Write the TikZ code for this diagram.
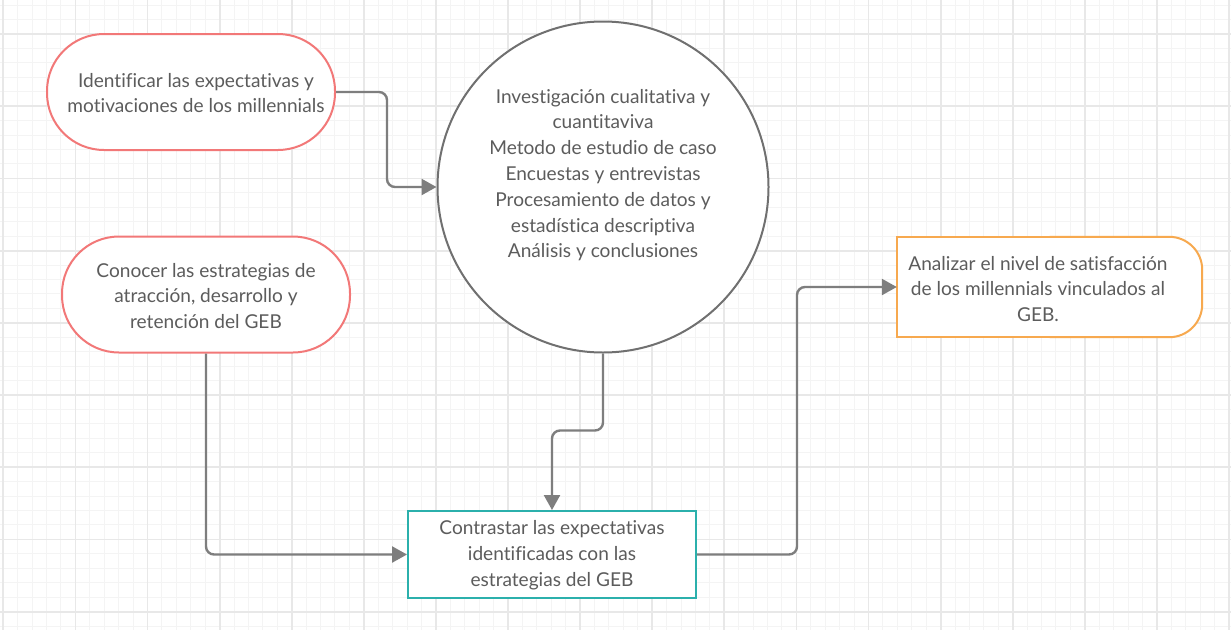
\documentclass[tikz,border=0pt]{standalone}
\usepackage{fontspec}
\setmainfont{Lato}[Ligatures=NoCommon]
\usetikzlibrary{arrows.meta,calc}
\definecolor{gridmin}{HTML}{F4F4F4}
\definecolor{gridmaj}{HTML}{E8E8E8}
\definecolor{redc}{HTML}{F27878}
\definecolor{orangec}{HTML}{F7A94F}
\definecolor{tealc}{HTML}{2BB0AC}
\definecolor{connc}{HTML}{7E7E7E}
\definecolor{circc}{HTML}{707070}
\definecolor{txtc}{HTML}{5C5C5C}
\tikzset{
  minorline/.style={gridmin, line width=1pt},
  majorline/.style={gridmaj, line width=1.8pt},
  txt/.style={text=txtc, align=center, font=\fontsize{19.1}{25.8}\selectfont},
  pill/.style={draw=redc, line width=2pt, fill=white, rounded corners=57pt, minimum width=288pt, minimum height=116pt},
  conn/.style={connc, line width=2.4pt, rounded corners=8pt, -{Triangle[length=15pt,width=16pt]}},
}
\begin{document}
\begin{tikzpicture}[x=1pt,y=-1pt]
\useasboundingbox (0,0) rectangle (1231,630);
\fill[white] (0,0) rectangle (1231,630);
% grid
\foreach \i in {0,...,85} {\draw[minorline] ({3.3+\i*14.42},0) -- ({3.3+\i*14.42},630);}
\foreach \j in {0,...,43} {\draw[minorline] (0,{5.1+\j*14.44}) -- (1231,{5.1+\j*14.44});}
\foreach \i in {0,...,17} {\draw[majorline] ({3.3+\i*72.1},0) -- ({3.3+\i*72.1},630);}
\foreach \j in {0,...,8} {\draw[majorline] (0,{34+\j*72.2}) -- (1231,{34+\j*72.2});}
% nodes
\node[pill] (a) at (191,92) {};
\node[txt] (at) at (196,93) {Identificar las expectativas y\\motivaciones de los millennials};
\node[pill] (b) at (206,294.5) {};
\node[txt] (bt) at (206,296) {Conocer las estrategias de\\atracción, desarrollo y\\retención del GEB};
\node[circle, draw=circc, line width=2pt, fill=white, minimum size=331pt, inner sep=0pt] (m) at (603,187) {};
\node[txt] (mt) at (603,175) {Investigación cualitativa y\\cuantitaviva\\Metodo de estudio de caso\\Encuestas y entrevistas\\Procesamiento de datos y\\estadística descriptiva\\Análisis y conclusiones};
\node[draw=tealc, line width=2pt, fill=white, minimum width=288pt, minimum height=87pt] (c) at (552,554.5) {};
\node[txt] (ct) at (552,555) {Contrastar las expectativas\\identificadas con las\\estrategias del GEB};
\node[minimum width=305pt, minimum height=100pt, inner sep=0pt] (d) at (1049.5,287) {};
\fill[white, rounded corners=33pt] (d.north west) -- (d.north east) -- (d.south east) -- (d.south west) -- cycle;
\fill[white] (d.north) rectangle (d.south west);
\draw[orangec, line width=2pt, rounded corners=33pt] (d.north) -- (d.north east) -- (d.south east) -- (d.south);
\draw[orangec, line width=2pt] (d.north) -- (d.north west) -- (d.south west) -- (d.south);
\node[txt] (dt) at (1038,289) {Analizar el nivel de satisfacción\\de los millennials vinculados al\\GEB.};
% connectors
\coordinate (k1) at (387,0);
\coordinate (k2) at (797,0);
\draw[conn] (a.east) -- (a.east -| k1) -- (k1 |- m.west) -- (m.west);
\draw[conn] (b.south) |- (c.west);
\draw[conn] (m.south) -- ++(0,77) -| (c.north);
\draw[conn] (c.east) -- (c.east -| k2) -- (k2 |- d.west) -- (d.west);
\end{tikzpicture}
\end{document}
